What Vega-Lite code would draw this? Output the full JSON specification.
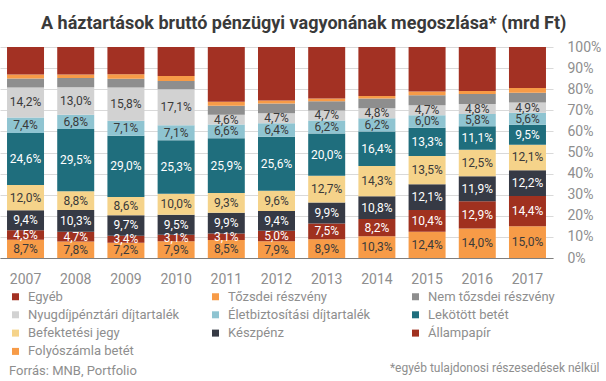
{
  "$schema": "https://vega.github.io/schema/vega-lite/v6.json",
  "width": 553,
  "height": 211,
  "autosize": {"type": "none"},
  "padding": {"left": 0, "top": 47, "right": 53, "bottom": 123},
  "background": "white",
  "config": {
    "font": "Roboto",
    "view": {"stroke": null},
    "locale": {"number": {"decimal": ",", "thousands": " ", "grouping": [3], "currency": ["", " Ft"]}}
  },
  "title": {
    "text": "A háztartások bruttó pénzügyi vagyonának megoszlása* (mrd Ft)",
    "anchor": "start",
    "frame": "group",
    "dx": 41,
    "offset": -7,
    "baseline": "alphabetic",
    "font": "Roboto",
    "fontSize": 18,
    "fontWeight": "bold",
    "color": "#3A3A3A"
  },
  "datasets": {
    "kats": [
      {"kat": "Folyószámla betét", "r": 0},
      {"kat": "Állampapír", "r": 1},
      {"kat": "Készpénz", "r": 2},
      {"kat": "Befektetési jegy", "r": 3},
      {"kat": "Lekötött betét", "r": 4},
      {"kat": "Életbiztosítási díjtartalék", "r": 5},
      {"kat": "Nyugdíjpénztári díjtartalék", "r": 6},
      {"kat": "Nem tőzsdei részvény", "r": 7},
      {"kat": "Tőzsdei részvény", "r": 8},
      {"kat": "Egyéb", "r": 9}
    ]
  },
  "data": {
    "values": [
      {"ev": "2007", "kat": "Folyószámla betét", "v": 0.087},
      {"ev": "2007", "kat": "Állampapír", "v": 0.045},
      {"ev": "2007", "kat": "Készpénz", "v": 0.094},
      {"ev": "2007", "kat": "Befektetési jegy", "v": 0.120},
      {"ev": "2007", "kat": "Lekötött betét", "v": 0.246},
      {"ev": "2007", "kat": "Életbiztosítási díjtartalék", "v": 0.074},
      {"ev": "2007", "kat": "Nyugdíjpénztári díjtartalék", "v": 0.142},
      {"ev": "2007", "kat": "Nem tőzsdei részvény", "v": 0.043},
      {"ev": "2007", "kat": "Tőzsdei részvény", "v": 0.019},
      {"ev": "2007", "kat": "Egyéb", "v": 0.130},

      {"ev": "2008", "kat": "Folyószámla betét", "v": 0.078},
      {"ev": "2008", "kat": "Állampapír", "v": 0.047},
      {"ev": "2008", "kat": "Készpénz", "v": 0.103},
      {"ev": "2008", "kat": "Befektetési jegy", "v": 0.088},
      {"ev": "2008", "kat": "Lekötött betét", "v": 0.295},
      {"ev": "2008", "kat": "Életbiztosítási díjtartalék", "v": 0.068},
      {"ev": "2008", "kat": "Nyugdíjpénztári díjtartalék", "v": 0.130},
      {"ev": "2008", "kat": "Nem tőzsdei részvény", "v": 0.044},
      {"ev": "2008", "kat": "Tőzsdei részvény", "v": 0.017},
      {"ev": "2008", "kat": "Egyéb", "v": 0.130},

      {"ev": "2009", "kat": "Folyószámla betét", "v": 0.072},
      {"ev": "2009", "kat": "Állampapír", "v": 0.034},
      {"ev": "2009", "kat": "Készpénz", "v": 0.097},
      {"ev": "2009", "kat": "Befektetési jegy", "v": 0.086},
      {"ev": "2009", "kat": "Lekötött betét", "v": 0.290},
      {"ev": "2009", "kat": "Életbiztosítási díjtartalék", "v": 0.071},
      {"ev": "2009", "kat": "Nyugdíjpénztári díjtartalék", "v": 0.158},
      {"ev": "2009", "kat": "Nem tőzsdei részvény", "v": 0.041},
      {"ev": "2009", "kat": "Tőzsdei részvény", "v": 0.022},
      {"ev": "2009", "kat": "Egyéb", "v": 0.129},

      {"ev": "2010", "kat": "Folyószámla betét", "v": 0.079},
      {"ev": "2010", "kat": "Állampapír", "v": 0.031},
      {"ev": "2010", "kat": "Készpénz", "v": 0.095},
      {"ev": "2010", "kat": "Befektetési jegy", "v": 0.100},
      {"ev": "2010", "kat": "Lekötött betét", "v": 0.253},
      {"ev": "2010", "kat": "Életbiztosítási díjtartalék", "v": 0.071},
      {"ev": "2010", "kat": "Nyugdíjpénztári díjtartalék", "v": 0.171},
      {"ev": "2010", "kat": "Nem tőzsdei részvény", "v": 0.039},
      {"ev": "2010", "kat": "Tőzsdei részvény", "v": 0.023},
      {"ev": "2010", "kat": "Egyéb", "v": 0.138},

      {"ev": "2011", "kat": "Folyószámla betét", "v": 0.085},
      {"ev": "2011", "kat": "Állampapír", "v": 0.031},
      {"ev": "2011", "kat": "Készpénz", "v": 0.099},
      {"ev": "2011", "kat": "Befektetési jegy", "v": 0.093},
      {"ev": "2011", "kat": "Lekötött betét", "v": 0.259},
      {"ev": "2011", "kat": "Életbiztosítási díjtartalék", "v": 0.066},
      {"ev": "2011", "kat": "Nyugdíjpénztári díjtartalék", "v": 0.046},
      {"ev": "2011", "kat": "Nem tőzsdei részvény", "v": 0.043},
      {"ev": "2011", "kat": "Tőzsdei részvény", "v": 0.019},
      {"ev": "2011", "kat": "Egyéb", "v": 0.259},

      {"ev": "2012", "kat": "Folyószámla betét", "v": 0.079},
      {"ev": "2012", "kat": "Állampapír", "v": 0.050},
      {"ev": "2012", "kat": "Készpénz", "v": 0.094},
      {"ev": "2012", "kat": "Befektetési jegy", "v": 0.096},
      {"ev": "2012", "kat": "Lekötött betét", "v": 0.256},
      {"ev": "2012", "kat": "Életbiztosítási díjtartalék", "v": 0.064},
      {"ev": "2012", "kat": "Nyugdíjpénztári díjtartalék", "v": 0.047},
      {"ev": "2012", "kat": "Nem tőzsdei részvény", "v": 0.046},
      {"ev": "2012", "kat": "Tőzsdei részvény", "v": 0.014},
      {"ev": "2012", "kat": "Egyéb", "v": 0.254},

      {"ev": "2013", "kat": "Folyószámla betét", "v": 0.089},
      {"ev": "2013", "kat": "Állampapír", "v": 0.075},
      {"ev": "2013", "kat": "Készpénz", "v": 0.099},
      {"ev": "2013", "kat": "Befektetési jegy", "v": 0.127},
      {"ev": "2013", "kat": "Lekötött betét", "v": 0.200},
      {"ev": "2013", "kat": "Életbiztosítási díjtartalék", "v": 0.062},
      {"ev": "2013", "kat": "Nyugdíjpénztári díjtartalék", "v": 0.047},
      {"ev": "2013", "kat": "Nem tőzsdei részvény", "v": 0.044},
      {"ev": "2013", "kat": "Tőzsdei részvény", "v": 0.013},
      {"ev": "2013", "kat": "Egyéb", "v": 0.244},

      {"ev": "2014", "kat": "Folyószámla betét", "v": 0.103},
      {"ev": "2014", "kat": "Állampapír", "v": 0.082},
      {"ev": "2014", "kat": "Készpénz", "v": 0.108},
      {"ev": "2014", "kat": "Befektetési jegy", "v": 0.143},
      {"ev": "2014", "kat": "Lekötött betét", "v": 0.164},
      {"ev": "2014", "kat": "Életbiztosítási díjtartalék", "v": 0.062},
      {"ev": "2014", "kat": "Nyugdíjpénztári díjtartalék", "v": 0.048},
      {"ev": "2014", "kat": "Nem tőzsdei részvény", "v": 0.046},
      {"ev": "2014", "kat": "Tőzsdei részvény", "v": 0.012},
      {"ev": "2014", "kat": "Egyéb", "v": 0.232},

      {"ev": "2015", "kat": "Folyószámla betét", "v": 0.124},
      {"ev": "2015", "kat": "Állampapír", "v": 0.104},
      {"ev": "2015", "kat": "Készpénz", "v": 0.121},
      {"ev": "2015", "kat": "Befektetési jegy", "v": 0.135},
      {"ev": "2015", "kat": "Lekötött betét", "v": 0.133},
      {"ev": "2015", "kat": "Életbiztosítási díjtartalék", "v": 0.060},
      {"ev": "2015", "kat": "Nyugdíjpénztári díjtartalék", "v": 0.047},
      {"ev": "2015", "kat": "Nem tőzsdei részvény", "v": 0.047},
      {"ev": "2015", "kat": "Tőzsdei részvény", "v": 0.018},
      {"ev": "2015", "kat": "Egyéb", "v": 0.211},

      {"ev": "2016", "kat": "Folyószámla betét", "v": 0.140},
      {"ev": "2016", "kat": "Állampapír", "v": 0.129},
      {"ev": "2016", "kat": "Készpénz", "v": 0.119},
      {"ev": "2016", "kat": "Befektetési jegy", "v": 0.125},
      {"ev": "2016", "kat": "Lekötött betét", "v": 0.111},
      {"ev": "2016", "kat": "Életbiztosítási díjtartalék", "v": 0.058},
      {"ev": "2016", "kat": "Nyugdíjpénztári díjtartalék", "v": 0.048},
      {"ev": "2016", "kat": "Nem tőzsdei részvény", "v": 0.047},
      {"ev": "2016", "kat": "Tőzsdei részvény", "v": 0.015},
      {"ev": "2016", "kat": "Egyéb", "v": 0.208},

      {"ev": "2017", "kat": "Folyószámla betét", "v": 0.150},
      {"ev": "2017", "kat": "Állampapír", "v": 0.144},
      {"ev": "2017", "kat": "Készpénz", "v": 0.122},
      {"ev": "2017", "kat": "Befektetési jegy", "v": 0.121},
      {"ev": "2017", "kat": "Lekötött betét", "v": 0.095},
      {"ev": "2017", "kat": "Életbiztosítási díjtartalék", "v": 0.056},
      {"ev": "2017", "kat": "Nyugdíjpénztári díjtartalék", "v": 0.049},
      {"ev": "2017", "kat": "Nem tőzsdei részvény", "v": 0.046},
      {"ev": "2017", "kat": "Tőzsdei részvény", "v": 0.023},
      {"ev": "2017", "kat": "Egyéb", "v": 0.194}
    ]
  },
  "transform": [
    {"lookup": "kat", "from": {"data": {"name": "kats"}, "key": "kat", "fields": ["r"]}}
  ],
  "encoding": {
    "x": {
      "field": "ev",
      "type": "nominal",
      "scale": {"paddingInner": 0.263, "paddingOuter": 0.14},
      "axis": {
        "labelAngle": 0,
        "labelFontSize": 14,
        "labelColor": "#8E8E8E",
        "labelPadding": 14,
        "ticks": false,
        "domain": true,
        "domainColor": "#808080",
        "domainWidth": 1,
        "title": "*egyéb tulajdonosi részesedések nélkül",
        "titleX": 599,
        "titleY": 109,
        "titleAlign": "right",
        "titleBaseline": "middle",
        "titleFontSize": 12,
        "titleFontWeight": "normal",
        "titleColor": "#8E8E8E"
      }
    },
    "y": {
      "field": "v",
      "type": "quantitative",
      "stack": "zero",
      "scale": {"domain": [0, 1], "nice": false},
      "axis": {
        "orient": "right",
        "values": [0, 0.1, 0.2, 0.3, 0.4, 0.5, 0.6, 0.7, 0.8, 0.9, 1],
        "format": ".0%",
        "grid": true,
        "gridColor": "#D9D9D9",
        "domain": false,
        "ticks": false,
        "labelFontSize": 14,
        "labelColor": "#8E8E8E",
        "labelPadding": 14,
        "title": null
      }
    },
    "order": {"field": "r", "type": "quantitative", "sort": "ascending"}
  },
  "layer": [
    {
      "mark": {"type": "bar"},
      "encoding": {
        "color": {
          "field": "kat",
          "type": "nominal",
          "scale": {
            "domain": ["Egyéb", "Tőzsdei részvény", "Nem tőzsdei részvény", "Nyugdíjpénztári díjtartalék", "Életbiztosítási díjtartalék", "Lekötött betét", "Befektetési jegy", "Készpénz", "Állampapír", "Folyószámla betét"],
            "range": ["#A33123", "#F79B47", "#8E8E8E", "#D2D2D2", "#8FC4D1", "#1F6E7D", "#F5D38A", "#363A45", "#A0311F", "#F79B47"]
          },
          "legend": {
            "orient": "none",
            "direction": "horizontal",
            "legendX": 9,
            "legendY": 243,
            "columns": 3,
            "gridAlign": "all",
            "columnPadding": 29,
            "rowPadding": 4.3,
            "padding": 0,
            "symbolType": "square",
            "symbolSize": 49,
            "symbolStrokeWidth": 0,
            "labelFontSize": 13,
            "labelColor": "#8E8E8E",
            "labelOffset": 6,
            "labelLimit": 300,
            "title": "Forrás: MNB, Portfolio",
            "titleOrient": "bottom",
            "titleAnchor": "start",
            "titlePadding": 7,
            "titleFontSize": 13,
            "titleFontWeight": "normal",
            "titleColor": "#8E8E8E"
          }
        }
      }
    },
    {
      "transform": [{"filter": "datum.r < 7"}],
      "mark": {"type": "text", "fontSize": 12, "align": "center", "baseline": "middle"},
      "encoding": {
        "y": {"field": "v", "type": "quantitative", "stack": "zero", "bandPosition": 0.5},
        "text": {"field": "v", "type": "quantitative", "format": ".1%"},
        "color": {
          "condition": {"test": "datum.r == 1 || datum.r == 2 || datum.r == 4", "value": "#FFFFFF"},
          "value": "#3A3A3A"
        }
      }
    }
  ]
}
